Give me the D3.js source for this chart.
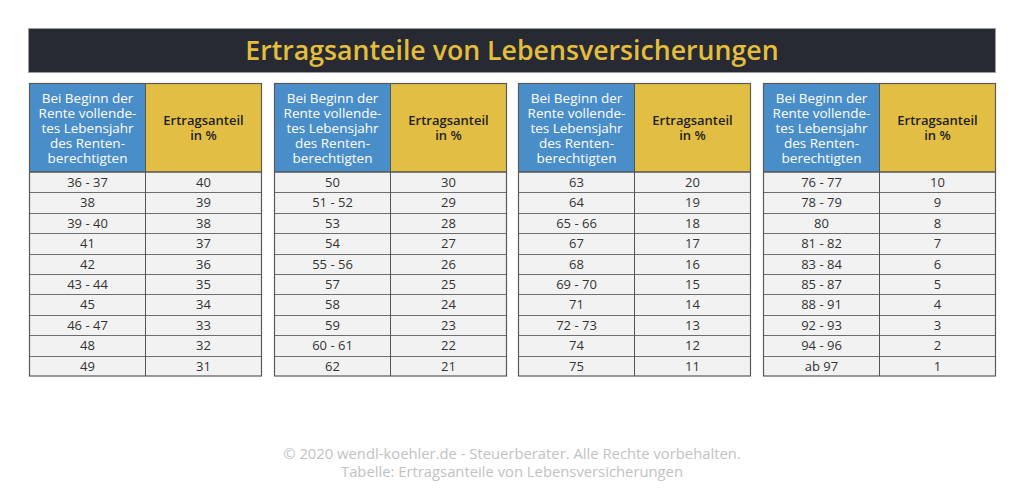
<!DOCTYPE html>
<html><head><meta charset="utf-8">
<script src="https://cdn.jsdelivr.net/npm/d3@7"></script>
<style>body{margin:0;background:#fff}svg{display:block;font-family:"Open Sans",sans-serif}</style>
</head><body><svg id="c" width="1024" height="504"></svg>
<script>
const title = "Ertragsanteile von Lebensversicherungen";
const headerAge = ["Bei Beginn der","Rente vollende-","tes Lebensjahr","des Renten-","berechtigten"];
const headerShare = ["Ertragsanteil","in %"];
const ages = ["36 - 37","38","39 - 40","41","42","43 - 44","45","46 - 47","48","49",
  "50","51 - 52","53","54","55 - 56","57","58","59","60 - 61","62",
  "63","64","65 - 66","67","68","69 - 70","71","72 - 73","74","75",
  "76 - 77","78 - 79","80","81 - 82","83 - 84","85 - 87","88 - 91","92 - 93","94 - 96","ab 97"];
const shares = [40,39,38,37,36,35,34,33,32,31,30,29,28,27,26,25,24,23,22,21,
  20,19,18,17,16,15,14,13,12,11,10,9,8,7,6,5,4,3,2,1];
const footer = ["© 2020 wendl-koehler.de - Steuerberater. Alle Rechte vorbehalten.","Tabelle: Ertragsanteile von Lebensversicherungen"];

const svg = d3.select("#c");
const rowsPer = 10, nTables = 4;
const xT = d3.scaleLinear().domain([0, nTables]).range([29, 29 + 244.5*nTables]);
const tW = 232, colW = 116;
const hTop = 83.5, hBot = 172;
const yR = d3.scaleLinear().domain([0, rowsPer]).range([hBot, 376]);

svg.append("rect").attr("x",28.5).attr("y",28.5).attr("width",967).attr("height",44)
  .attr("fill","#272a32").attr("stroke","#9a9ca0").attr("stroke-width",1);
svg.append("text").attr("x",512).attr("y",60).attr("text-anchor","middle")
  .attr("font-size",26.7).attr("font-weight",600).attr("fill","#e3be3e").text(title);

for (let t=0;t<nTables;t++){
  const x0 = Math.round(xT(t))+0.5;
  const g = svg.append("g");
  g.append("rect").attr("x",x0).attr("y",hTop).attr("width",colW).attr("height",hBot-hTop).attr("fill","#4a8ec9");
  g.append("rect").attr("x",x0+colW).attr("y",hTop).attr("width",tW-colW).attr("height",hBot-hTop).attr("fill","#e2bf44");
  const ht = g.append("text").attr("text-anchor","middle").attr("font-size",13.5).attr("fill","#fff");
  headerAge.forEach((s,i)=>ht.append("tspan").attr("x",x0+colW/2).attr("y",103.3+i*15).text(s));
  const hs = g.append("text").attr("text-anchor","middle").attr("font-size",13).attr("font-weight",600).attr("fill","#1e1e1e");
  headerShare.forEach((s,i)=>hs.append("tspan").attr("x",x0+colW+(tW-colW)/2).attr("y",124.8+i*15).text(s));
  const rows = d3.range(rowsPer).map(i=>({a:ages[t*rowsPer+i], v:shares[t*rowsPer+i], i}));
  const rg = g.selectAll("g.r").data(rows).join("g");
  rg.append("rect").attr("x",x0).attr("y",d=>yR(d.i)).attr("width",tW).attr("height",d=>yR(d.i+1)-yR(d.i))
    .attr("fill","#f2f2f2");
  rg.append("text").attr("x",x0+colW/2).attr("y",d=>(yR(d.i)+yR(d.i+1))/2+4.8).attr("text-anchor","middle")
    .attr("font-size",13).attr("fill","#333").text(d=>d.a);
  rg.append("text").attr("x",x0+colW+(tW-colW)/2).attr("y",d=>(yR(d.i)+yR(d.i+1))/2+4.8).attr("text-anchor","middle")
    .attr("font-size",13).attr("fill","#333").text(d=>d.v);
  d3.range(1,rowsPer).forEach(i=>{
    g.append("line").attr("x1",x0).attr("x2",x0+tW).attr("y1",Math.round(yR(i))+0.5).attr("y2",Math.round(yR(i))+0.5)
      .attr("stroke","#6e6e6e").attr("stroke-width",1);
  });
  g.append("line").attr("x1",x0).attr("x2",x0+tW).attr("y1",hBot).attr("y2",hBot).attr("stroke","#555").attr("stroke-width",1.3);
  g.append("line").attr("x1",x0+colW).attr("x2",x0+colW).attr("y1",hTop).attr("y2",376).attr("stroke","#555").attr("stroke-width",1);
  g.append("rect").attr("x",x0).attr("y",hTop).attr("width",tW).attr("height",376-hTop)
    .attr("fill","none").attr("stroke","#5a5a5a").attr("stroke-width",1.2);
}
footer.forEach((s,i)=>svg.append("text").attr("x",512).attr("y",458.5+i*18).attr("text-anchor","middle")
  .attr("font-size",14.8).attr("fill","#c2c2c2").text(s));
</script></body></html>
